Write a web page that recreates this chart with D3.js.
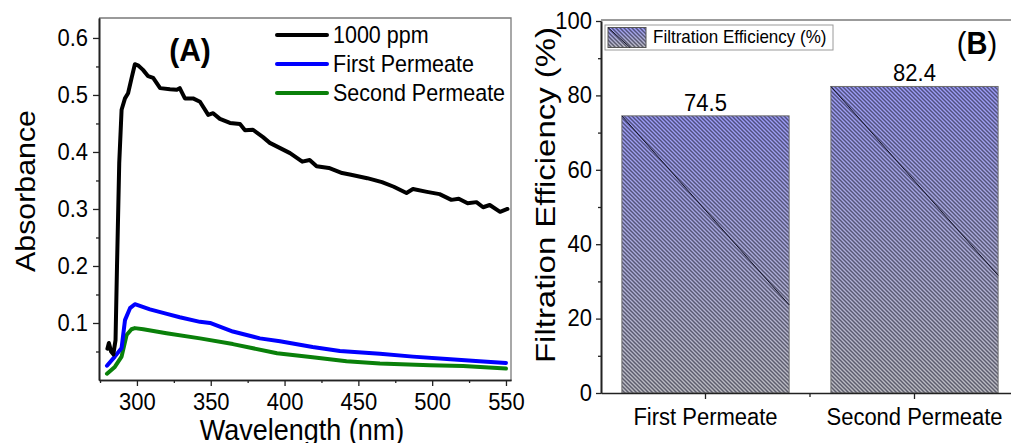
<!DOCTYPE html>
<html><head><meta charset="utf-8">
<script src="https://cdn.jsdelivr.net/npm/d3@7"></script>
<style>
html,body{margin:0;padding:0;background:#fff;}
svg{display:block;font-family:"Liberation Sans",Arial,sans-serif;}
</style></head>
<body><svg id="c" width="1011" height="443"></svg>
<script>
// ---------- DATA ----------
const blackNm  = [280,281,282.5,284,285.5,286.5,288,289.6,291.9,294,296.4,298.6,300.7,304.1,307.6,311,315.7,322.4,327,329,332.5,338,342.7,348.3,351.6,356.2,363,369.8,373.2,378.6,385.4,390,393,403.7,412,417,421.7,430,439,445,456,466,474,482.6,487,496.5,505,513,518,524,530,534.5,539,546,551];
const blackAbs = [0.055,0.065,0.05,0.045,0.07,0.2,0.38,0.474,0.494,0.503,0.53,0.554,0.552,0.544,0.533,0.53,0.512,0.51,0.509,0.512,0.494,0.494,0.488,0.465,0.468,0.458,0.451,0.449,0.438,0.439,0.426,0.416,0.412,0.398,0.383,0.386,0.375,0.372,0.363,0.36,0.354,0.347,0.339,0.328,0.335,0.330,0.326,0.316,0.318,0.310,0.312,0.303,0.307,0.295,0.30];
const blueNm   = [279.7,285,289.6,291.9,295.3,298.6,302,308.8,320.3,329,342.7,349.5,365,383.3,396.9,419,437.5,464.6,487,510,532,550];
const blueAbs  = [0.025,0.041,0.056,0.105,0.126,0.133,0.13,0.124,0.116,0.11,0.102,0.1,0.085,0.073,0.068,0.058,0.051,0.046,0.041,0.037,0.033,0.030];
const greenNm  = [279.7,285,289.6,293,296.3,298.6,304.3,320,342.7,365,394.9,419,442,464.6,498.5,521,550];
const greenAbs = [0.011,0.023,0.041,0.079,0.089,0.091,0.089,0.082,0.073,0.063,0.047,0.040,0.033,0.029,0.026,0.0245,0.020];
const seriesNames = ["1000 ppm","First Permeate","Second Permeate"];
const seriesColors = ["#000000","#0000ff","#0a800a"];
const absTicks = [0.1,0.2,0.3,0.4,0.5,0.6];
const absMinor = [0.05,0.15,0.25,0.35,0.45,0.55];
const nmTicks = [300,350,400,450,500,550];
const nmMinor = [275,325,375,425,475,525];

const barCats = ["First Permeate","Second Permeate"];
const barVals = [74.5,82.4];
const effTicks = [0,20,40,60,80,100];
const effMinor = [10,30,50,70,90];
const barLegend = "Filtration Efficiency (%)";

// ---------- SETUP ----------
const svg = d3.select("#c");
const defs = svg.append("defs");
const grad = defs.append("linearGradient").attr("id","bg").attr("x1",0).attr("y1",0).attr("x2",0).attr("y2",1);
grad.append("stop").attr("offset","0%").attr("stop-color","#9c9cf8");
grad.append("stop").attr("offset","100%").attr("stop-color","#bdbdc2");
const pat = defs.append("pattern").attr("id","hatch").attr("patternUnits","userSpaceOnUse")
  .attr("width",4).attr("height",4);
pat.append("path").attr("d","M-1,-1L5,5M-1,3L1,5M3,-1L5,1")
  .attr("stroke","#1e1e34").attr("stroke-opacity",0.6).attr("stroke-width",1.5);

function stretchText(g, x, y, txt, size, k, opts={}) {
  const t = g.append("text").attr("transform",`translate(${x},${y}) scale(1,${k})`)
    .attr("font-size",size).attr("text-anchor",opts.anchor||"middle").attr("fill","#000")
    .attr("font-weight",opts.weight||"normal");
  t.text(txt);
  return t;
}

// ---------- PANEL A ----------
const A = {x0:99, x1:511, y0:18, y1:380};
const xA = d3.scaleLinear().domain([274.3,553.4]).range([A.x0,A.x1]);
const yA = d3.scaleLinear().domain([0,0.635]).range([A.y1,A.y0]);
const gA = svg.append("g");

gA.append("path").attr("d",`M${A.x0},${A.y0}H${A.x1}V${A.y1}`).attr("fill","none").attr("stroke","#7a7a7a").attr("stroke-width",1.3);

const axYA = gA.append("g").attr("transform",`translate(${A.x0},0)`)
  .call(d3.axisLeft(yA).tickValues(absTicks).tickFormat(d3.format(".1f")).tickSize(6).tickPadding(5).tickSizeOuter(0));
gA.append("g").attr("transform",`translate(${A.x0},0)`)
  .call(d3.axisLeft(yA).tickValues(absMinor).tickFormat("").tickSize(3).tickSizeOuter(0));
const axXA = gA.append("g").attr("transform",`translate(0,${A.y1})`)
  .call(d3.axisBottom(xA).tickValues(nmTicks).tickFormat(d3.format("d")).tickSize(6).tickPadding(7).tickSizeOuter(0));
gA.append("g").attr("transform",`translate(0,${A.y1})`)
  .call(d3.axisBottom(xA).tickValues(nmMinor).tickFormat("").tickSize(3).tickSizeOuter(0));

const seriesData = [
  blackNm.map((d,i)=>[d,blackAbs[i]]),
  blueNm.map((d,i)=>[d,blueAbs[i]]),
  greenNm.map((d,i)=>[d,greenAbs[i]])
];
const line = d3.line().x(d=>xA(d[0])).y(d=>yA(d[1]));
[2,1,0].forEach(i=>{
  gA.append("path").datum(seriesData[i]).attr("d",line).attr("fill","none")
    .attr("stroke",seriesColors[i]).attr("stroke-width",4).attr("stroke-linejoin","round").attr("stroke-linecap","round");
});

const legYs = [35,64,93];
seriesNames.forEach((n,i)=>{
  gA.append("line").attr("x1",277).attr("x2",327).attr("y1",legYs[i]).attr("y2",legYs[i])
    .attr("stroke",seriesColors[i]).attr("stroke-width",4).attr("stroke-linecap","round");
  stretchText(gA,333,legYs[i]+8,n,21.5,1.1,{anchor:"start"});
});

stretchText(gA,190,61,"(A)",30,1.05,{weight:"bold"});
stretchText(gA,(A.x0+A.x1)/2-3,440,"Wavelength (nm)",27,1.12);
gA.append("text").attr("transform","translate(35,191) rotate(-90)").attr("text-anchor","middle")
  .attr("font-size",28).attr("textLength",162).attr("lengthAdjust","spacingAndGlyphs").text("Absorbance");

// ---------- PANEL B ----------
const B = {x0:601, x1:1019, y0:20, y1:393};
const xB = d3.scaleBand().domain(barCats).range([B.x0,B.x1]).paddingInner(0.2).paddingOuter(0.1);
const yB = d3.scaleLinear().domain([0,100]).range([B.y1,21]);
const gB = svg.append("g");

gB.append("line").attr("x1",B.x0).attr("x2",1011).attr("y1",B.y0).attr("y2",B.y0).attr("stroke","#7a7a7a").attr("stroke-width",1.3);

const bars = gB.selectAll("g.bar").data(barCats).enter().append("g");
bars.append("rect").attr("x",d=>xB(d)).attr("width",xB.bandwidth())
  .attr("y",(d,i)=>yB(barVals[i])).attr("height",(d,i)=>yB(0)-yB(barVals[i])).attr("fill","url(#bg)");
bars.append("rect").attr("x",d=>xB(d)).attr("width",xB.bandwidth())
  .attr("y",(d,i)=>yB(barVals[i])).attr("height",(d,i)=>yB(0)-yB(barVals[i]))
  .attr("fill","url(#hatch)").attr("stroke","#6e6e6e").attr("stroke-width",1);
bars.append("line").attr("x1",d=>xB(d)).attr("y1",(d,i)=>yB(barVals[i]))
  .attr("x2",d=>xB(d)+xB.bandwidth()).attr("y2",(d,i)=>yB(barVals[i])+xB.bandwidth()*1.13)
  .attr("stroke","#141428").attr("stroke-width",1);
bars.append("text").attr("x",d=>xB(d)+xB.bandwidth()/2).attr("y",(d,i)=>yB(barVals[i])-5)
  .attr("text-anchor","middle").attr("font-size",22)
  .attr("transform",(d,i)=>{const y=yB(barVals[i])-5;return `translate(0,${y}) scale(1,1.1) translate(0,${-y})`;})
  .text((d,i)=>barVals[i].toFixed(1));

const axYB = gB.append("g").attr("transform",`translate(${B.x0},0)`)
  .call(d3.axisLeft(yB).tickValues(effTicks).tickFormat(d3.format("d")).tickSize(5).tickPadding(4).tickSizeOuter(0));
gB.append("g").attr("transform",`translate(${B.x0},0)`)
  .call(d3.axisLeft(yB).tickValues(effMinor).tickFormat("").tickSize(3).tickSizeOuter(0));
const axXB = gB.append("g").attr("transform",`translate(0,${B.y1})`)
  .call(d3.axisBottom(xB).tickSize(6).tickPadding(9).tickSizeOuter(0));
gB.append("line").attr("x1",(xB(barCats[0])+xB(barCats[1])+xB.bandwidth())/2)
  .attr("x2",(xB(barCats[0])+xB(barCats[1])+xB.bandwidth())/2)
  .attr("y1",B.y1).attr("y2",B.y1+4).attr("stroke","#222").attr("stroke-width",1.3);

gB.append("rect").attr("x",605).attr("y",25).attr("width",228).attr("height",25).attr("fill","#fff").attr("stroke","#9a9a9a").attr("stroke-width",1);
gB.append("rect").attr("x",608).attr("y",27.5).attr("width",38).attr("height",20).attr("fill","url(#bg)");
gB.append("rect").attr("x",608).attr("y",27.5).attr("width",38).attr("height",20).attr("fill","url(#hatch)").attr("stroke","#555").attr("stroke-width",1);
gB.append("line").attr("x1",608).attr("y1",27.5).attr("x2",630).attr("y2",47.5).attr("stroke","#141428").attr("stroke-width",1);
stretchText(gB,653,43,barLegend,17,1.08,{anchor:"start"});

const bt = gB.append("text").attr("transform","translate(977,54) scale(1,1.08)").attr("text-anchor","middle").attr("font-size",29);
bt.append("tspan").text("(");
bt.append("tspan").attr("font-weight","bold").text("B");
bt.append("tspan").text(")");

gB.append("text").attr("transform","translate(555,195) rotate(-90)").attr("text-anchor","middle")
  .attr("font-size",28).attr("textLength",336).attr("lengthAdjust","spacingAndGlyphs").text(barLegend);

// ---------- axis styling ----------
svg.selectAll(".domain").attr("stroke","#222").attr("stroke-width",1.6);
svg.selectAll(".tick line").attr("stroke","#222").attr("stroke-width",1.3);
svg.selectAll(".tick text").attr("font-size",22).attr("fill","#000").attr("font-family","Liberation Sans, Arial, sans-serif");
[axXA,axXB].forEach(ax=>{
  ax.selectAll(".tick text").each(function(){
    const t=d3.select(this); const y=+t.attr("y");
    t.attr("y",y/1.1).attr("transform","scale(1,1.1)");
  });
});
[axYA,axYB].forEach(ax=>{
  ax.selectAll(".tick text").attr("transform","scale(1,1.1)").attr("dy","0.3em");
});
</script></body></html>
